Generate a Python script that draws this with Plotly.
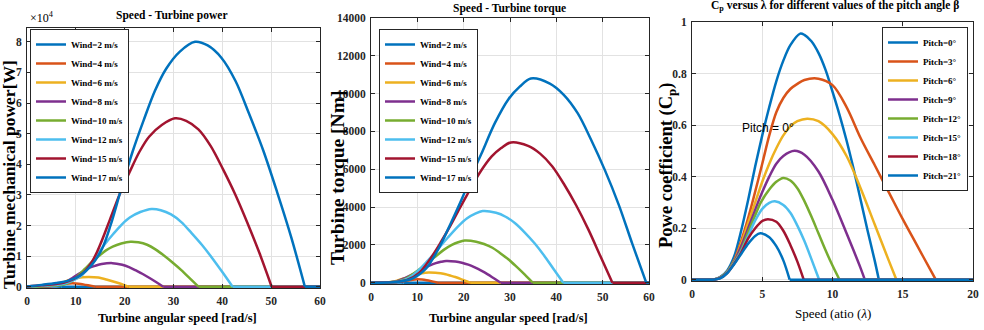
import plotly.graph_objects as go

W, H = 984, 330

# ---------------- data ----------------
wind_labels = ["Wind=2 m/s", "Wind=4 m/s", "Wind=6 m/s", "Wind=8 m/s",
               "Wind=10 m/s", "Wind=12 m/s", "Wind=15 m/s", "Wind=17 m/s"]
pitch_labels = ["Pitch=0°", "Pitch=3°", "Pitch=6°", "Pitch=9°",
                "Pitch=12°", "Pitch=15°", "Pitch=18°", "Pitch=21°"]

# Panel 1: turbine mechanical power (x10^4 W) vs angular speed (rad/s)
pw2_x = [0, 2, 3, 4, 4.5, 5, 6, 7, 60]
pw2_y = [0, 0.002, 0.006, 0.012, 0.014, 0.013, 0.007, 0, 0]
pw4_x = [0, 3, 5, 6, 7, 8, 9.3, 10, 11, 12, 13, 14, 60]
pw4_y = [0, 0.005, 0.025, 0.05, 0.08, 0.1, 0.11, 0.105, 0.09, 0.06, 0.03, 0, 0]
pw6_x = [0, 2, 4.0, 4.8, 5.6, 6.2, 7.1, 7.9, 8.7, 9.6, 10.4, 11.4, 12.6, 14.6, 16.6, 18.7, 19.8, 20.8, 60]
pw6_y = [0, 0.003, 0.01, 0.022, 0.048, 0.08, 0.128, 0.176, 0.218, 0.256, 0.285, 0.307, 0.32, 0.30, 0.22, 0.12, 0.06, 0, 0]
pw8_x = [0, 3, 4.2, 5.3, 6.4, 7.5, 8.4, 9.5, 10.6, 11.7, 12.8, 14.0, 15.3, 17.5, 19.5, 20.9, 22.3, 23.7, 25.1, 26.5, 27.9, 60]
pw8_y = [0, 0.003, 0.008, 0.023, 0.054, 0.116, 0.19, 0.31, 0.42, 0.52, 0.62, 0.685, 0.74, 0.77, 0.715, 0.64, 0.53, 0.415, 0.285, 0.146, 0, 0]
pw10_x = [0, 3, 5.3, 6.7, 8.1, 9.5, 10.5, 11.9, 13.3, 14.7, 16.1, 17.55, 19.3, 21.2, 22.8, 24.6, 26.3, 28.1, 29.8, 31.6, 33.3, 35.1, 60]
pw10_y = [0, 0.01, 0.03, 0.05, 0.103, 0.22, 0.37, 0.59, 0.81, 1.0, 1.18, 1.31, 1.41, 1.47, 1.45, 1.37, 1.22, 1.01, 0.79, 0.54, 0.28, 0, 0]
pw12_x = [0, 3, 6.3, 8.0, 9.7, 11.4, 12.6, 14.3, 16.0, 17.7, 19.4, 21.05, 23.2, 25.5, 27.4, 29.5, 31.6, 33.7, 35.8, 37.9, 40.0, 42.1, 60]
pw12_y = [0, 0.03, 0.06, 0.12, 0.22, 0.4, 0.64, 1.02, 1.4, 1.73, 2.03, 2.26, 2.44, 2.54, 2.50, 2.36, 2.11, 1.75, 1.37, 0.94, 0.48, 0, 0]
pw15_x = [0, 3, 6, 7.5, 9.5, 11.5, 13.5, 15.0, 17.0, 19.0, 21.0, 23.0, 25.0, 27.6, 30.3, 32.6, 35.1, 37.6, 40.1, 42.6, 45.1, 47.6, 50.1, 60]
pw15_y = [0.01, 0.045, 0.09, 0.13, 0.25, 0.45, 0.87, 1.38, 2.2, 3.03, 3.74, 4.4, 4.9, 5.28, 5.5, 5.42, 5.14, 4.6, 3.85, 3.03, 2.1, 1.1, 0, 0]
pw17_x = [0, 3, 6, 8.5, 10.8, 13.1, 15.4, 17.1, 19.3, 21.6, 23.9, 26.2, 28.5, 31.3, 34.4, 37.0, 39.8, 42.7, 45.5, 48.4, 51.2, 54.1, 56.9, 60]
pw17_y = [0.01, 0.06, 0.12, 0.2, 0.36, 0.68, 1.25, 2.0, 3.2, 4.4, 5.44, 6.4, 7.12, 7.68, 8.0, 7.88, 7.48, 6.72, 5.64, 4.44, 3.1, 1.62, 0, 0]

# Panel 2: turbine torque (Nm) vs angular speed (rad/s)
tq2_x = [0, 2, 3.5, 4.5, 5.5, 6.5, 7, 60]
tq2_y = [0, 5, 15, 20, 15, 5, 0, 0]
tq4_x = [0, 3, 5, 6, 7, 8, 9, 10, 11, 12, 13, 14, 14.5, 60]
tq4_y = [0, 3, 20, 45, 80, 120, 160, 175, 165, 130, 80, 25, 0, 0]
tq6_x = [0, 3.2, 4.3, 5.4, 6.2, 7.1, 7.9, 8.6, 9.6, 10.7, 11.6, 12.4, 13.9, 15.0, 16.1, 17.1, 18.2, 19.3, 20.3, 21.4, 60]
tq6_y = [0, 11, 38, 97, 157, 221, 292, 340, 421, 486, 518, 540, 527, 497, 448, 378, 297, 205, 103, 0, 0]
tq8_x = [0, 2.8, 4.2, 5.6, 7.0, 8.1, 9.2, 10.4, 11.2, 12.6, 14.0, 15.1, 16.2, 18.2, 19.6, 21.0, 22.4, 23.8, 25.2, 26.6, 28.0, 60]
tq8_y = [0, 6, 23, 81, 207, 334, 472, 621, 725, 897, 1035, 1104, 1150, 1121, 1058, 955, 805, 633, 437, 219, 0, 0]
tq10_x = [0, 3.5, 5.2, 7.0, 8.7, 10.1, 11.5, 12.9, 14.0, 15.7, 17.45, 18.8, 20.2, 22.7, 24.4, 26.2, 27.9, 29.7, 31.4, 33.2, 34.9, 60]
tq10_y = [0, 11, 45, 156, 401, 646, 913, 1202, 1402, 1736, 2003, 2137, 2226, 2170, 2048, 1848, 1558, 1224, 846, 423, 0, 0]
tq12_x = [0, 4.2, 6.2, 8.3, 10.4, 12.0, 13.7, 15.4, 16.6, 18.7, 20.75, 22.4, 24.1, 27.0, 29.05, 31.1, 33.2, 35.3, 37.35, 39.4, 41.5, 60]
tq12_y = [0, 19, 76, 265, 682, 1099, 1554, 2047, 2388, 2956, 3411, 3638, 3790, 3695, 3487, 3146, 2653, 2085, 1440, 720, 0, 0]
tq15_x = [0, 5.2, 7.8, 10.4, 13.0, 15.1, 17.2, 19.3, 20.8, 23.4, 26.05, 28.1, 30.2, 33.9, 36.5, 39.1, 41.7, 44.3, 46.9, 49.5, 52.1, 60]
tq15_y = [0, 37, 148, 519, 1336, 2152, 3042, 4007, 4675, 5788, 6678, 7123, 7420, 7235, 6826, 6159, 5194, 4081, 2820, 1410, 0, 0]
tq17_x = [0, 5.9, 8.9, 11.9, 14.9, 17.2, 19.6, 22.0, 23.8, 26.7, 29.7, 32.1, 34.5, 38.6, 41.6, 44.6, 47.5, 50.5, 53.5, 56.4, 59.4, 60]
tq17_y = [0, 54, 216, 756, 1944, 3132, 4428, 5832, 6804, 8424, 9720, 10368, 10800, 10530, 9936, 8964, 7560, 5940, 4104, 2052, 0, 0]

# Panel 3: power coefficient Cp vs tip speed ratio lambda
cp0_x = [0, 1.5, 2, 2.5, 3, 3.5, 4, 4.5, 5, 5.5, 6, 6.5, 7, 7.7, 8, 8.5, 9, 9.5, 10, 10.5, 11, 11.5, 12, 12.5, 13, 13.3, 20]
cp0_y = [0, 0, 0.01, 0.035, 0.09, 0.19, 0.31, 0.44, 0.56, 0.67, 0.77, 0.85, 0.91, 0.955, 0.95, 0.925, 0.88, 0.815, 0.73, 0.64, 0.54, 0.43, 0.31, 0.19, 0.075, 0, 0]
cp3_x = [0, 1.5, 2, 2.5, 3, 3.5, 4, 4.3, 5, 5.5, 6, 6.5, 7, 7.5, 8, 9, 10, 11, 12, 13, 14, 15, 16, 17, 17.35, 20]
cp3_y = [0, 0, 0.008, 0.03, 0.075, 0.15, 0.24, 0.3, 0.45, 0.56, 0.65, 0.705, 0.74, 0.76, 0.775, 0.78, 0.755, 0.67, 0.55, 0.445, 0.34, 0.235, 0.135, 0.035, 0, 0]
cp6_x = [0, 1.5, 2, 2.5, 3, 3.5, 4, 4.5, 5, 5.5, 6, 6.5, 7, 7.5, 8.2, 9, 10, 11, 12, 13, 14, 14.55, 20]
cp6_y = [0, 0, 0.008, 0.03, 0.072, 0.14, 0.22, 0.3, 0.38, 0.45, 0.51, 0.56, 0.595, 0.615, 0.625, 0.615, 0.565, 0.48, 0.355, 0.215, 0.075, 0, 0]
cp9_x = [0, 1.5, 2, 2.5, 3, 3.5, 4, 4.7, 5, 5.5, 6, 6.5, 7.3, 8, 9, 10, 11, 12, 12.3, 20]
cp9_y = [0, 0, 0.008, 0.03, 0.07, 0.13, 0.2, 0.3, 0.34, 0.4, 0.45, 0.48, 0.5, 0.485, 0.42, 0.31, 0.18, 0.045, 0, 0]
cp12_x = [0, 1.5, 2, 2.5, 3, 3.5, 4, 4.5, 4.9, 5.5, 6, 6.5, 7, 7.5, 8, 8.5, 9, 9.5, 10, 10.5, 20]
cp12_y = [0, 0, 0.008, 0.03, 0.068, 0.115, 0.185, 0.25, 0.3, 0.35, 0.38, 0.395, 0.385, 0.355, 0.305, 0.245, 0.18, 0.115, 0.055, 0, 0]
cp15_x = [0, 1.5, 2, 2.5, 3, 3.5, 4, 4.5, 5, 5.5, 5.9, 6.5, 7, 7.5, 8, 8.5, 9.05, 20]
cp15_y = [0, 0, 0.007, 0.028, 0.065, 0.11, 0.17, 0.23, 0.275, 0.298, 0.304, 0.29, 0.26, 0.21, 0.15, 0.08, 0, 0]
cp18_x = [0, 1.5, 2, 2.5, 3, 3.5, 4, 4.5, 5, 5.4, 6, 6.5, 7, 7.5, 7.95, 20]
cp18_y = [0, 0, 0.006, 0.026, 0.062, 0.105, 0.16, 0.2, 0.228, 0.235, 0.225, 0.19, 0.135, 0.07, 0, 0]
cp21_x = [0, 1.5, 2, 2.5, 3, 3.5, 4, 4.5, 4.86, 5.5, 6, 6.5, 6.95, 20]
cp21_y = [0, 0, 0.005, 0.025, 0.06, 0.1, 0.14, 0.17, 0.18, 0.165, 0.13, 0.075, 0, 0]

power_series = [(pw2_x, pw2_y), (pw4_x, pw4_y), (pw6_x, pw6_y), (pw8_x, pw8_y),
                (pw10_x, pw10_y), (pw12_x, pw12_y), (pw15_x, pw15_y), (pw17_x, pw17_y)]
torque_series = [(tq2_x, tq2_y), (tq4_x, tq4_y), (tq6_x, tq6_y), (tq8_x, tq8_y),
                 (tq10_x, tq10_y), (tq12_x, tq12_y), (tq15_x, tq15_y), (tq17_x, tq17_y)]
cp_series = [(cp0_x, cp0_y), (cp3_x, cp3_y), (cp6_x, cp6_y), (cp9_x, cp9_y),
             (cp12_x, cp12_y), (cp15_x, cp15_y), (cp18_x, cp18_y), (cp21_x, cp21_y)]

# ---------------- styling ----------------
colors = ['#0072BD', '#D95319', '#EDB120', '#7E2F8E', '#77AC30', '#4DBEEE', '#A2142F', '#0072BD']
SERIF = 'Liberation Serif'
AX = '#262626'
LW = 2.5


def px(xp, yp):
    return xp / W, 1 - yp / H


def segments(xs, ys):
    n = len(ys)
    pos = [i for i, v in enumerate(ys) if v > 0]
    i0 = max(pos[0] - 1, 0)
    i1 = min(pos[-1] + 1, n - 1)
    return (xs[:i0 + 1], ys[:i0 + 1]), (xs[i0:i1 + 1], ys[i0:i1 + 1]), (xs[i1:], ys[i1:])


fig = go.Figure()


def add_panel(series, labels, xa, ya, legend):
    for (xs, ys), lab, col in zip(series, labels, colors):
        head, hump, tail = segments(xs, ys)
        if len(head[0]) > 1:
            fig.add_trace(go.Scatter(x=head[0], y=head[1], mode='lines', xaxis=xa, yaxis=ya,
                                     line=dict(color=col, width=LW), showlegend=False, hoverinfo='skip'))
        fig.add_trace(go.Scatter(x=hump[0], y=hump[1], mode='lines', xaxis=xa, yaxis=ya, name=lab,
                                 line=dict(color=col, width=LW, shape='spline', smoothing=0.9),
                                 legend=legend))
        if len(tail[0]) > 1:
            fig.add_trace(go.Scatter(x=tail[0], y=tail[1], mode='lines', xaxis=xa, yaxis=ya,
                                     line=dict(color=col, width=LW), showlegend=False, hoverinfo='skip'))


add_panel(power_series, wind_labels, 'x', 'y', 'legend')
add_panel(torque_series, wind_labels, 'x2', 'y2', 'legend2')
add_panel(cp_series, pitch_labels, 'x3', 'y3', 'legend3')

tickfont = dict(family=SERIF, size=11.5, color=AX, weight='bold')
common = dict(showline=True, linecolor=AX, linewidth=1, mirror='ticks', ticks='inside',
              ticklen=4, tickcolor=AX, showgrid=True, gridcolor='#e2e2e2', gridwidth=1,
              zeroline=False, tickfont=tickfont, ticklabelstandoff=2, automargin=False)

d1x = [27 / W, 320 / W]; d1y = [1 - 288 / H, 1 - 28 / H]
d2x = [371 / W, 649 / W]; d2y = [1 - 284 / H, 1 - 18 / H]
d3x = [692 / W, 973 / W]; d3y = [1 - 281 / H, 1 - 22 / H]

fig.update_layout(
    width=W, height=H, autosize=False,
    margin=dict(l=0, r=0, t=0, b=0, pad=0),
    paper_bgcolor='white', plot_bgcolor='white',
    xaxis=dict(domain=d1x, anchor='y', range=[0, 60], dtick=10, **common),
    yaxis=dict(domain=d1y, anchor='x', range=[-0.042, 8.45], dtick=1, **common),
    xaxis2=dict(domain=d2x, anchor='y2', range=[0, 60], dtick=10, **common),
    yaxis2=dict(domain=d2y, anchor='x2', range=[-70, 14000], dtick=2000, tickformat='d', **common),
    xaxis3=dict(domain=d3x, anchor='y3', range=[0, 20], dtick=5, **common),
    yaxis3=dict(domain=d3y, anchor='x3', range=[-0.005, 1], dtick=0.2, **common),
)

legfont = dict(family=SERIF, size=9, color='black', weight='bold')
legcommon = dict(bgcolor='white', bordercolor=AX, borderwidth=1, font=legfont,
                 tracegroupgap=0, yanchor='top')
lx, ly = px(30, 29)
l2x, l2y = px(379, 29)
l3x, l3y = px(968, 27)
fig.update_layout(
    legend=dict(x=lx, y=ly, xanchor='left', **legcommon),
    legend2=dict(x=l2x, y=l2y, xanchor='left', **legcommon),
    legend3=dict(x=l3x, y=l3y, xanchor='right', **legcommon),
)


def note(text, xp, yp, size, bold=True, angle=0, family=SERIF, xanchor='center'):
    x, y = px(xp, yp)
    fig.add_annotation(text=text, x=x, y=y, xref='paper', yref='paper', showarrow=False,
                       textangle=angle, xanchor=xanchor, yanchor='middle',
                       font=dict(family=family, size=size, color='black',
                                 weight='bold' if bold else 'normal'))


# titles
note("Speed - Turbine power", 172, 16, 11.5)
note("Speed - Turbine torque", 509, 9, 11.5)
note("C<sub>p</sub> versus λ for different values of the pitch angle β", 835, 6, 11.5)
# exponent label
note("×10<sup>4</sup>", 28, 17, 12, bold=False, xanchor='left')
# x axis titles
note("Turbine angular speed [rad/s]", 177, 318, 12.5)
note("Turbine angular speed [rad/s]", 508, 318, 12.5)
note("Speed (atio (<i>λ</i>)", 833, 313, 13, bold=False)
# y axis titles
note("Turbine mechanical power[W]", 9, 175, 17.5, angle=-90)
note("Turbine torque [Nm]", 337, 178, 19.5, angle=-90)
note("Powe coefficient (C<sub>p</sub>)", 667, 166, 18.5, angle=-90)
# in-plot label
note("Pitch = 0°", 768, 128, 12, bold=False, family='Liberation Sans')

fig.write_html("out.html", config={'displayModeBar': False},
               post_script="document.body.style.margin='0px';")
